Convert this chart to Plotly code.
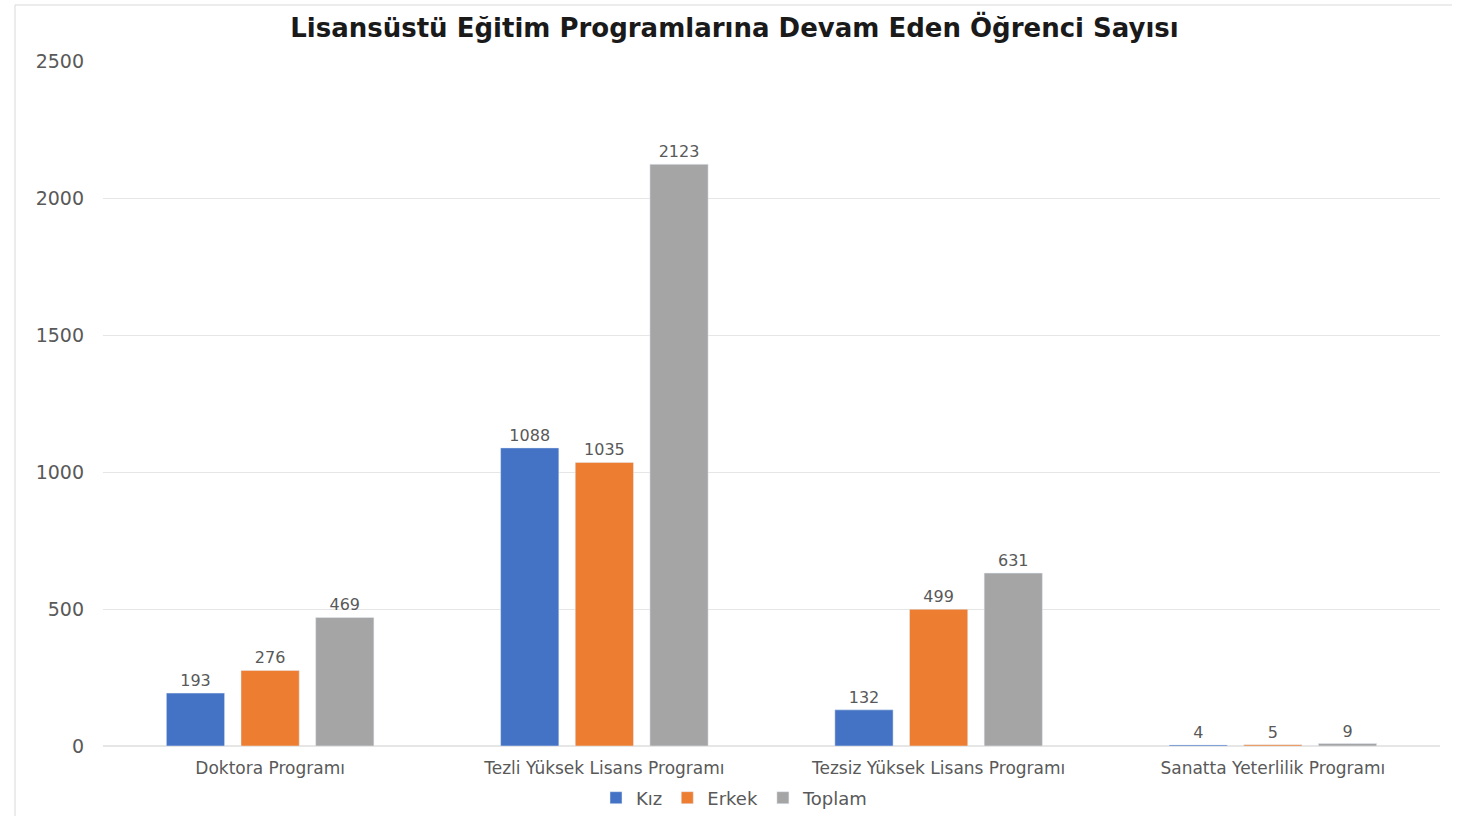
import plotly.graph_objects as go

categories = ["Doktora Programı", "Tezli Yüksek Lisans Programı", "Tezsiz Yüksek Lisans Programı", "Sanatta Yeterlilik Programı"]
kiz = [193, 1088, 132, 4]
erkek = [276, 1035, 499, 5]
toplam = [469, 2123, 631, 9]
series_names = ["Kız", "Erkek", "Toplam"]
colors = ["#4472C4", "#ED7D31", "#A5A5A5"]
y_ticks = [0, 500, 1000, 1500, 2000, 2500]

FONT = "DejaVu Sans"
TXT = "#595959"

fig = go.Figure()
for name, vals, col in zip(series_names, [kiz, erkek, toplam], colors):
    fig.add_trace(go.Bar(
        name=name, x=categories, y=vals, marker_color=col,
        text=[str(v) for v in vals], textposition="outside",
        textfont=dict(family=FONT, size=16, color=TXT),
        cliponaxis=False,
    ))

W, H = 1469, 816
L, R, T, B = 103, 29, 61, 70
pw, ph = W - L - R, H - T - B

def px(x):
    return (x - L) / pw

def py(y):
    return (H - B - y) / ph

fig.update_layout(
    width=W, height=H,
    margin=dict(l=L, r=R, t=T, b=B, autoexpand=False),
    paper_bgcolor="white", plot_bgcolor="white",
    barmode="group", bargap=0.33, bargroupgap=0.22,
    title=dict(text="<b>Lisansüstü Eğitim Programlarına Devam Eden Öğrenci Sayısı</b>",
               x=0.5, xref="container", xanchor="center", y=1 - 28 / H, yanchor="middle",
               font=dict(family=FONT, size=26, color="#1a1a1a")),
    font=dict(family=FONT, color=TXT),
    showlegend=True,
    legend=dict(orientation="h", xref="container", x=0.5, xanchor="center", y=py(798), yanchor="middle",
                font=dict(family=FONT, size=18, color=TXT), itemwidth=30,
                traceorder="normal"),
    xaxis=dict(showgrid=False, showline=False, ticks="", automargin=False, ticklabelstandoff=10,
               tickfont=dict(family=FONT, size=17, color=TXT)),
    yaxis=dict(range=[0, 2500], tickvals=y_ticks, showgrid=True, gridcolor="#E6E6E6",
               zeroline=True, zerolinecolor="#E6E6E6", showline=False, ticks="", automargin=False,
               tickfont=dict(family=FONT, size=19, color=TXT), ticklabelstandoff=18),
    shapes=[
        dict(type="line", xref="paper", yref="paper", x0=px(15), x1=px(15), y0=py(5), y1=py(816),
             line=dict(color="#D9D9D9", width=1)),
        dict(type="line", xref="paper", yref="paper", x0=px(15), x1=px(1452), y0=py(5), y1=py(5),
             line=dict(color="#D9D9D9", width=1)),
    ],
)

fig.write_html("out.html", config={"displayModeBar": False},
               post_script="document.body.style.margin='0';document.body.style.overflow='hidden';")
